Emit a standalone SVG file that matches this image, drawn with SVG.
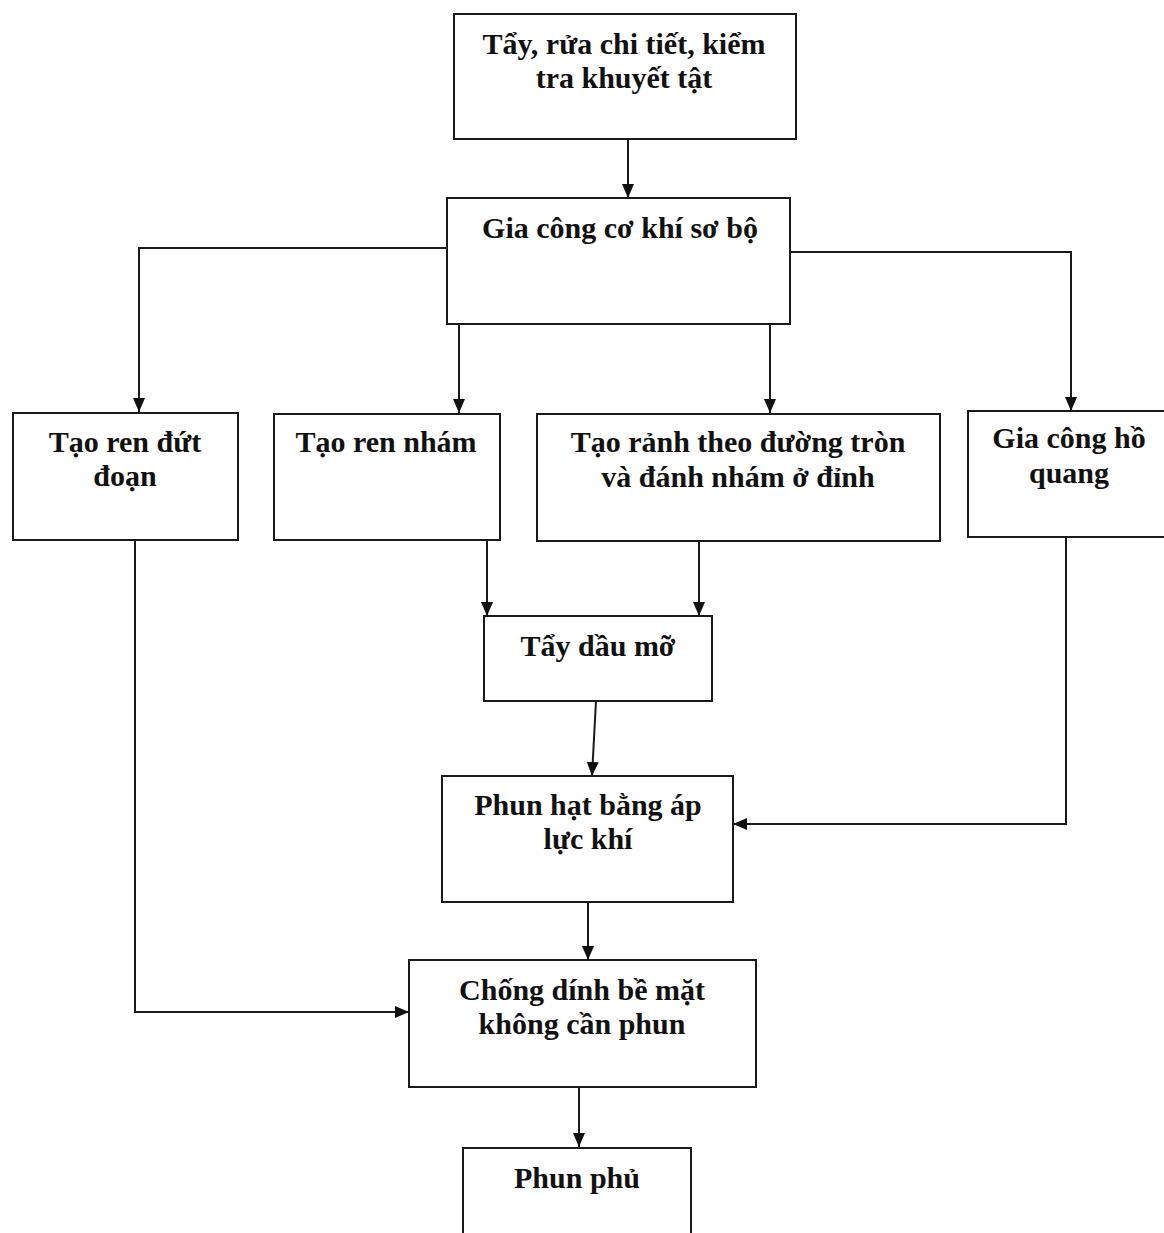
<svg xmlns="http://www.w3.org/2000/svg" width="1164" height="1233" viewBox="0 0 1164 1233">
<defs>
<marker id="ah" viewBox="0 0 14 12" refX="14" refY="6" markerWidth="14" markerHeight="12" markerUnits="userSpaceOnUse" orient="auto">
<path d="M0,0 L14,6 L0,12 Z" fill="#111"/>
</marker>
<style>
.box{fill:#fff;stroke:#1a1a1a;stroke-width:2}
.t{font-family:"Liberation Serif","Times New Roman",serif;font-weight:bold;font-size:30px;fill:#111;text-anchor:middle}
.c{fill:none;stroke:#1a1a1a;stroke-width:2}
</style>
</defs>
<rect width="1164" height="1233" fill="#fff"/>
<g id="connectors">
<path class="c" d="M628,139 L628,198" marker-end="url(#ah)"/>
<path class="c" d="M447,248 L139,248 L139,412" marker-end="url(#ah)"/>
<path class="c" d="M790,252 L1071,252 L1071,411" marker-end="url(#ah)"/>
<path class="c" d="M459,324 L459,413" marker-end="url(#ah)"/>
<path class="c" d="M770,324 L770,413" marker-end="url(#ah)"/>
<path class="c" d="M487,540 L487,616" marker-end="url(#ah)"/>
<path class="c" d="M699,541 L699,616" marker-end="url(#ah)"/>
<path class="c" d="M596,701 L592,776" marker-end="url(#ah)"/>
<path class="c" d="M1066,537 L1066,824 L733,824" marker-end="url(#ah)"/>
<path class="c" d="M588,902 L588,960" marker-end="url(#ah)"/>
<path class="c" d="M135,540 L135,1012 L409,1012" marker-end="url(#ah)"/>
<path class="c" d="M579,1087 L579,1147" marker-end="url(#ah)"/>
</g>
<g id="n1"><rect class="box" x="454" y="14" width="342" height="125"/>
<text class="t" x="624" y="54">Tẩy, rửa chi tiết, kiểm</text><text class="t" x="624" y="88">tra khuyết tật</text></g>
<g id="n2"><rect class="box" x="447" y="198" width="343" height="126"/>
<text class="t" x="620" y="238">Gia công cơ khí sơ bộ</text></g>
<g id="n3"><rect class="box" x="13" y="413" width="225" height="127"/>
<text class="t" x="125" y="452">Tạo ren đứt</text><text class="t" x="125" y="486">đoạn</text></g>
<g id="n4"><rect class="box" x="274" y="414" width="226" height="126"/>
<text class="t" x="386" y="452">Tạo ren nhám</text></g>
<g id="n5"><rect class="box" x="537" y="414" width="403" height="127"/>
<text class="t" x="738" y="452">Tạo rảnh theo đường tròn</text><text class="t" x="738" y="487">và đánh nhám ở đỉnh</text></g>
<g id="n6"><rect class="box" x="968" y="411" width="200" height="126"/>
<text class="t" x="1069" y="448">Gia công hồ</text><text class="t" x="1069" y="483">quang</text></g>
<g id="n7"><rect class="box" x="484" y="616" width="228" height="85"/>
<text class="t" x="598" y="656">Tẩy dầu mỡ</text></g>
<g id="n8"><rect class="box" x="442" y="776" width="291" height="126"/>
<text class="t" x="588" y="815">Phun hạt bằng áp</text><text class="t" x="588" y="849">lực khí</text></g>
<g id="n9"><rect class="box" x="409" y="960" width="347" height="127"/>
<text class="t" x="582" y="1000">Chống dính bề mặt</text><text class="t" x="582" y="1034">không cần phun</text></g>
<g id="n10"><rect class="box" x="463" y="1148" width="228" height="100"/>
<text class="t" x="577" y="1188">Phun phủ</text></g>
</svg>
